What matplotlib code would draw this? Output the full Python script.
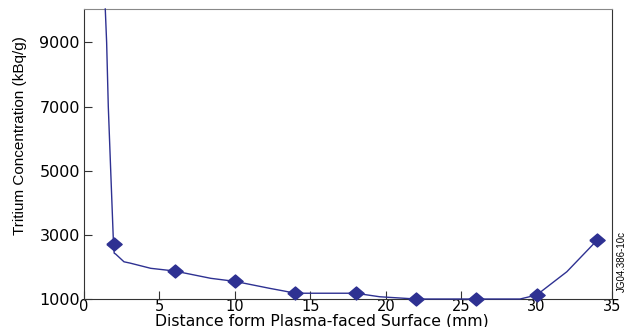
import matplotlib
matplotlib.use("Agg")
import matplotlib.pyplot as plt

# measured points (diamonds)
px = [2, 6, 10, 14, 18, 22, 26, 30, 34]
py = [2710, 1870, 1550, 1180, 1180, 1000, 1000, 1125, 2830]

# fitted curve
cx = [1.41, 1.5, 1.61, 1.77, 1.94, 2.0, 2.1, 2.65, 3.05, 4.42, 6, 8.4, 10, 12.3, 13.25, 14,
      18, 19.6, 22, 26, 28.9, 30, 32, 34]
cy = [10040, 9000, 7000, 5000, 2900, 2430, 2400, 2160, 2120, 1957, 1873, 1645, 1550, 1333, 1250, 1180,
      1180, 1070, 1000, 1000, 1000, 1125, 1850, 2830]

plt.rcParams['font.family'] = ['DejaVu Sans']
col = '#2e3192'
narrow = ['Liberation Sans Narrow', 'Liberation Sans']

fig = plt.figure(figsize=(6.33, 3.27), dpi=100)
ax = fig.add_axes([0.1327, 0.0856, 0.967 - 0.1327, 0.9725 - 0.0856])
ax.plot(cx, cy, color=col, lw=1.0, clip_on=False, zorder=3)
diamond = [(-1, 0), (0, 0.85), (1, 0), (0, -0.85), (-1, 0)]
ax.plot(px, py, marker=diamond, ls='none', color=col, ms=11, clip_on=False, zorder=4)

ax.set_xlim(0, 35)
ax.set_ylim(1000, 10040)
ax.set_xticks([0, 5, 10, 15, 20, 25, 30, 35])
ax.set_yticks([1000, 3000, 5000, 7000, 9000])
ax.tick_params(direction='in', length=6, width=0.8, color='#333333')
ax.tick_params(axis='y', labelsize=11.5, pad=3)
ax.tick_params(axis='x', labelsize=10.5, pad=0)

for s in ['left', 'bottom', 'right']:
    ax.spines[s].set_color('#333333')
ax.spines['top'].set_color('#888888')

ax.set_xlabel('Distance form Plasma-faced Surface (mm)', fontsize=11.3)
ax.xaxis.set_label_coords(0.451, -0.091, transform=ax.transAxes)
ax.xaxis.label.set_va('baseline')
ax.set_ylabel('Tritium Concentration (kBq/g)', fontsize=11, family=narrow)
ax.yaxis.set_label_coords(-0.121, 0.562)
ax.yaxis.label.set_va('center')

fig.text(0.983, 0.2, 'JG04.386-10c', rotation=90, fontsize=7,
         family=narrow, va='center', ha='center')

fig.savefig('out.png', dpi=100)
